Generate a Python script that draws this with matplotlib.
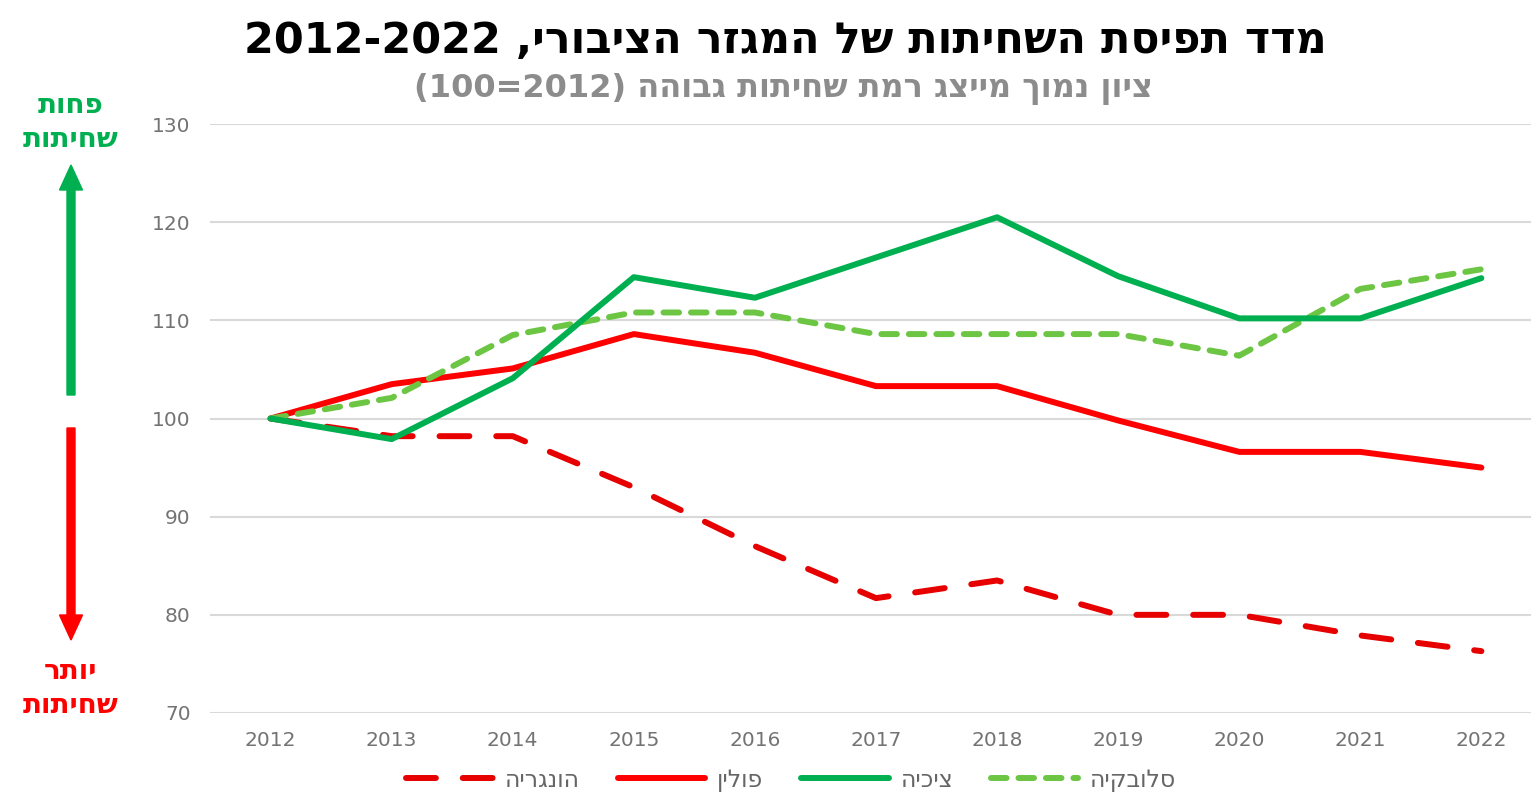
import re
import matplotlib
matplotlib.use('Agg')
import matplotlib.pyplot as plt
from matplotlib.patches import FancyArrow


def rtl(text):
    """Turn a logical-order Hebrew string into visual order for matplotlib."""
    rev = text[::-1]
    rev = re.sub(r'\d+(?:[-.,]\d+)*', lambda m: m.group(0)[::-1], rev)
    swap = {'(': ')', ')': '('}
    return ''.join(swap.get(c, c) for c in rev)


# data (2012 = 100)
years = [2012, 2013, 2014, 2015, 2016, 2017, 2018, 2019, 2020, 2021, 2022]
hungary = [100, 98.2, 98.2, 93.0, 87.0, 81.7, 83.5, 80.0, 80.0, 77.9, 76.3]
poland = [100, 103.5, 105.1, 108.6, 106.7, 103.3, 103.3, 99.8, 96.6, 96.6, 95.0]
czechia = [100, 97.9, 104.1, 114.4, 112.3, 116.4, 120.5, 114.5, 110.2, 110.2, 114.3]
slovakia = [100, 102.1, 108.5, 110.8, 110.8, 108.6, 108.6, 108.6, 106.4, 113.2, 115.2]

labels = ['הונגריה', 'פולין', 'ציכיה', 'סלובקיה']
title = 'מדד תפיסת השחיתות של המגזר הציבורי, 2012-2022'
subtitle = 'ציון נמוך מייצג רמת שחיתות גבוהה (2012=100)'
less_txt = 'פחות\nשחיתות'
more_txt = 'יותר\nשחיתות'

plt.rcParams['font.family'] = ['DejaVu Sans']

fig = plt.figure(figsize=(15.31, 7.97), dpi=100)
ax = fig.add_axes([0.1372, 0.1054, 0.8628, 0.739])

lw = 4.3
ax.plot(years, hungary, color='#e60000', lw=lw, dashes=(5, 4.5),
        dash_capstyle='round', label=rtl(labels[0]), zorder=3)
ax.plot(years, poland, color='#ff0000', lw=lw, solid_capstyle='round',
        label=rtl(labels[1]), zorder=3)
ax.plot(years, czechia, color='#00b050', lw=lw, solid_capstyle='round',
        label=rtl(labels[2]), zorder=4)
ax.plot(years, slovakia, color='#6cc644', lw=lw, dashes=(2.6, 2.0),
        dash_capstyle='round', label=rtl(labels[3]), zorder=3)

ax.set_xlim(2011.5, 2022.41)
ax.set_ylim(70, 130)
ax.set_yticks(range(70, 131, 10))
ax.set_xticks(years)
ax.grid(axis='y', color='#d9d9d9', lw=1.5)
ax.set_axisbelow(True)
for s in ax.spines.values():
    s.set_visible(False)
ax.tick_params(length=0, labelsize=14.5, labelcolor='#737373')
ax.tick_params(axis='y', pad=14)
ax.tick_params(axis='x', pad=13)

leg = ax.legend(loc='center', bbox_to_anchor=(0.44, -0.113), ncol=4, frameon=False,
                fontsize=17, handlelength=3.7, columnspacing=1.6, handletextpad=0.5)
for t in leg.get_texts():
    t.set_color('#666666')

fig.text(0.513, 0.948, rtl(title), ha='center', va='center',
         fontsize=31, fontweight='bold', color='black')
fig.text(0.512, 0.888, rtl(subtitle), ha='center', va='center',
         fontsize=23, fontweight='bold', color='#8c8c8c')

# left-side direction notes
fig.text(0.046, 0.847, '\n'.join(rtl(l) for l in less_txt.split('\n')),
         ha='center', va='center', fontsize=20, fontweight='bold',
         color='#00b050', linespacing=1.25)
fig.text(0.046, 0.137, '\n'.join(rtl(l) for l in more_txt.split('\n')),
         ha='center', va='center', fontsize=20, fontweight='bold',
         color='#ff0000', linespacing=1.3)
fig.patches.append(FancyArrow(0.71, 4.02, 0, 2.30, width=0.08, head_width=0.23,
                              head_length=0.25, length_includes_head=True,
                              color='#00b050', transform=fig.dpi_scale_trans))
fig.patches.append(FancyArrow(0.71, 3.69, 0, -2.12, width=0.08, head_width=0.23,
                              head_length=0.25, length_includes_head=True,
                              color='#ff0000', transform=fig.dpi_scale_trans))

fig.savefig('out.png', dpi=100, facecolor='white')
